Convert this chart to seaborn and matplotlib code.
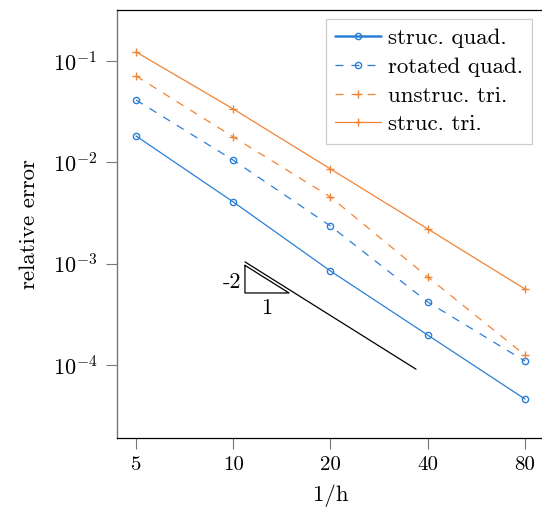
import numpy as np
import pandas as pd
import matplotlib
matplotlib.use("Agg")
import matplotlib.pyplot as plt
import seaborn as sns

# mesh refinement levels (1/h)
inv_h = [5, 10, 20, 40, 80]
tick_labels = ["5", "10", "20", "40", "80"]

# relative errors per discretisation
err_struc_quad = [1.82e-2, 4.06e-3, 8.45e-4, 1.97e-4, 4.6e-5]
err_rot_quad = [4.12e-2, 1.05e-2, 2.35e-3, 4.18e-4, 1.09e-4]
err_unstruc_tri = [7.11e-2, 1.78e-2, 4.54e-3, 7.37e-4, 1.25e-4]
err_struc_tri = [1.228e-1, 3.36e-2, 8.59e-3, 2.20e-3, 5.61e-4]

series_names = ["struc. quad.", "rotated quad.", "unstruc. tri.", "struc. tri."]
series_values = [err_struc_quad, err_rot_quad, err_unstruc_tri, err_struc_tri]

# reference O(h^2) slope line
ref_x = [10.87, 36.8]
ref_y0 = 1.04e-3
slope = -2

sns.set_theme(style="white")
plt.rcParams.update({
    "font.family": "serif",
    "font.serif": ["cmr10", "DejaVu Serif"],
    "mathtext.fontset": "cm",
    "axes.formatter.use_mathtext": True,
    "axes.unicode_minus": False,
    "text.color": "black",
    "axes.labelcolor": "black",
    "xtick.color": "black",
    "ytick.color": "black",
    "font.size": 15,
})

blue = "#2a7fd6"
orange = "#f08436"
colors = [blue, blue, orange, orange]
dash = (0, (6.4, 6.4))
styles = ["-", dash, dash, "-"]
markers = ["o", "o", "+", "+"]

df = pd.concat([
    pd.DataFrame({"inv_h": inv_h, "err": v, "method": n})
    for n, v in zip(series_names, series_values)
])

W, H = 542, 507
fig = plt.figure(figsize=(W / 100, H / 100), dpi=100)
ax = fig.add_axes([117 / W, 1 - 438 / H, (544 - 117) / W, (438 - 10) / H])

for name, c, ls, m in zip(series_names, colors, styles, markers):
    sub = df[df["method"] == name]
    sns.lineplot(data=sub, x="inv_h", y="err", ax=ax, color=c, linestyle=ls,
                 marker=m, markersize=4.5 if m == "o" else 6,
                 markerfacecolor="none", markeredgecolor=c, markeredgewidth=1.0,
                 linewidth=0.9, label=name)

ax.set_xscale("log", base=2)
ax.set_yscale("log")
ax.set_xlim(4.367, 91.6)
ax.set_ylim(1.90e-5, 0.3184)

# slope reference line
rx = np.array(ref_x)
ax.plot(rx, ref_y0 * (rx / rx[0]) ** slope, color="black", linewidth=0.9)

# slope triangle
tx0, tx1 = 10.87, 14.88
ty0 = 5.13e-4
ty1 = ty0 * (tx1 / tx0) ** (-slope)
ax.plot([tx0, tx0, tx1, tx0], [ty1, ty0, ty0, ty1], color="black", linewidth=0.9)
ax.text(tx0 * 0.975, np.sqrt(ty0 * ty1) * 0.93, "-2", ha="right", va="center", fontsize=16)
ax.text(np.sqrt(tx0 * tx1), ty0 * 0.88, "1", ha="center", va="top", fontsize=16)

ax.set_xticks(inv_h)
ax.set_xticklabels(tick_labels)
ax.set_yticks([1e-4, 1e-3, 1e-2, 1e-1])
ax.minorticks_off()
ax.tick_params(axis="both", which="major", direction="out", length=7.8, width=0.8,
               color="#777777", bottom=True, left=True, top=False, right=False)
ax.tick_params(axis="x", labelsize=15, pad=5)
ax.tick_params(axis="y", labelsize=16, pad=6.5)

ax.set_xlabel("1/h", fontsize=16.5, labelpad=8)
ax.set_ylabel("relative error", fontsize=16.5, labelpad=10)

for side in ["top", "bottom", "right"]:
    ax.spines[side].set_color("black")
    ax.spines[side].set_linewidth(0.9)
ax.spines["left"].set_color("#777777")
ax.spines["left"].set_linewidth(1.0)

leg = ax.legend(loc="upper left", bbox_to_anchor=((326 - 117) / (544 - 117), 1 - 9 / 428),
                fontsize=16.5, frameon=True, fancybox=False, framealpha=1,
                edgecolor="#cccccc", handlelength=2.0, labelspacing=0.38,
                borderpad=0.4, handletextpad=0.3, borderaxespad=0)
leg.get_frame().set_linewidth(0.9)
leg.get_lines()[0].set_linewidth(1.8)

fig.savefig("out.png", dpi=100)
